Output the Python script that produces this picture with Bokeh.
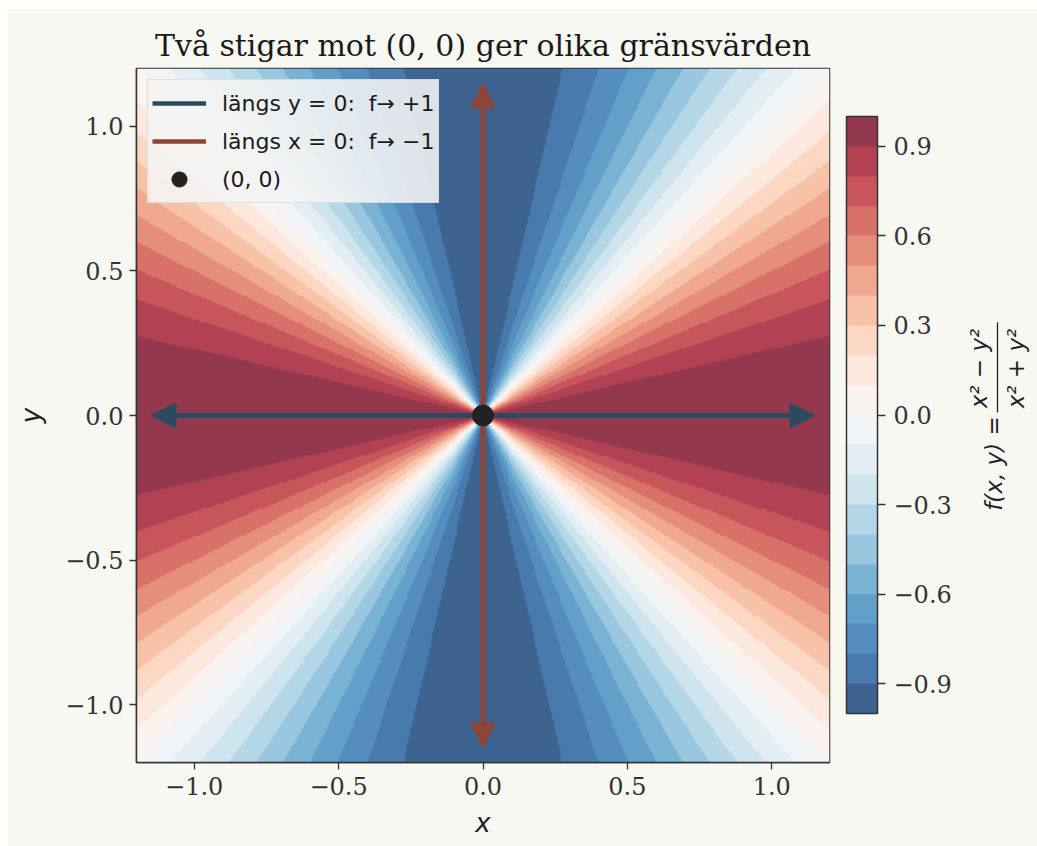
import numpy as np
from bokeh.plotting import figure
from bokeh.layouts import row
from bokeh.models import (LinearColorMapper, ColorBar, FixedTicker, CustomJSTickFormatter,
                          Arrow, NormalHead, Label, Legend, LegendItem, Range1d)
from bokeh.embed import file_html
from bokeh.resources import INLINE

# ---------------- data ----------------
title_text = "Två stigar mot (0, 0) ger olika gränsvärden"
x_lim = [-1.2, 1.2]
y_lim = [-1.2, 1.2]
levels = [round(-1.0 + 0.1 * i, 1) for i in range(21)]          # 20 filled bands
axis_ticks = [-1.0, -0.5, 0.0, 0.5, 1.0]
cbar_ticks = [-0.9, -0.6, -0.3, 0.0, 0.3, 0.6, 0.9]
path_y0_tips = [-1.15, 1.15]      # arrow tips along y = 0 (x values)
path_x0_tips = [-1.15, 1.15]      # arrow tips along x = 0 (y values)
origin_x = [0.0]
origin_y = [0.0]
legend_labels = ["längs y = 0:  f→ +1", "längs x = 0:  f→ −1", "(0, 0)"]
cbar_label_parts = ["f(x, y) =", "x² − y²", "x² + y²"]

# ---------------- field f(x,y) = (x^2 - y^2)/(x^2 + y^2) ----------------
N = 720
g = x_lim[0] + (np.arange(N) + 0.5) * (x_lim[1] - x_lim[0]) / N
X, Y = np.meshgrid(g, g)
F = ((X ** 2 - Y ** 2) / (X ** 2 + Y ** 2)).astype(np.float32)

# ---------------- colours: RdBu_r sampled at band centres, alpha 0.8 ----------------
rdbu_r = [(5, 48, 97), (33, 102, 172), (67, 147, 195), (146, 197, 222), (209, 229, 240),
          (247, 247, 247), (253, 219, 199), (244, 165, 130), (214, 96, 77), (178, 24, 43),
          (103, 0, 31)]


def cmap(t):
    s = t * (len(rdbu_r) - 1)
    i = min(int(s), len(rdbu_r) - 2)
    f = s - i
    return [rdbu_r[i][k] * (1 - f) + rdbu_r[i + 1][k] * f for k in range(3)]


alpha = 0.8
nb = len(levels) - 1
palette = []
for i in range(nb):
    c = cmap((i + 0.5) / nb)
    rgb = [int(round(alpha * v + (1 - alpha) * 255)) for v in c]
    palette.append("#%02x%02x%02x" % tuple(rgb))

mapper = LinearColorMapper(palette=palette, low=levels[0], high=levels[-1])

BG = "#f8f8f3"

# ---------------- main figure ----------------
p = figure(frame_width=693, frame_height=694, x_range=tuple(x_lim), y_range=tuple(y_lim),
           output_backend="svg", toolbar_location=None, title=title_text,
           min_border_left=128, min_border_top=59, min_border_right=133, min_border_bottom=84)
p.border_fill_color = BG
p.background_fill_color = "white"
p.outline_line_color = "#333333"
p.outline_line_width = 1.5
p.grid.visible = False

p.title.align = "center"
p.title.text_font = "DejaVu Serif"
p.title.text_font_style = "normal"
p.title.text_font_size = "30px"
p.title.text_color = "#1a1a1a"
p.title.standoff = 11

fmt = CustomJSTickFormatter(code="return (tick < -1e-9 ? '\u2212' : '') + Math.abs(tick).toFixed(1);")
for ax in (p.xaxis[0], p.yaxis[0]):
    ax.ticker = FixedTicker(ticks=axis_ticks)
    ax.formatter = fmt
    ax.major_tick_out = 7
    ax.major_tick_in = 0
    ax.minor_tick_line_color = None
    ax.major_tick_line_color = "#333333"
    ax.major_tick_line_width = 1.3
    ax.axis_line_color = "#333333"
    ax.axis_line_width = 1.5
    ax.major_label_text_font = "DejaVu Serif"
    ax.major_label_text_font_size = "24px"
    ax.major_label_text_color = "#333333"
    ax.axis_label_text_font = "DejaVu Sans"
    ax.axis_label_text_font_style = "italic"
    ax.axis_label_text_font_size = "26px"
    ax.axis_label_text_color = "#222222"
p.xaxis.axis_label = "x"
p.yaxis.axis_label = "y"
p.xaxis.major_label_standoff = 7
p.yaxis.major_label_standoff = 6
p.xaxis.axis_label_standoff = 10
p.yaxis.axis_label_standoff = 16

# filled contour field
p.image(image=[F], x=x_lim[0], y=y_lim[0], dw=x_lim[1] - x_lim[0], dh=y_lim[1] - y_lim[0],
        color_mapper=mapper)

blue = "#2c4a5e"
red = "#8c4538"

# arrows along the two paths
for tip in path_y0_tips:
    p.add_layout(Arrow(x_start=origin_x[0], y_start=origin_y[0], x_end=tip, y_end=origin_y[0],
                       line_color=blue, line_width=5,
                       end=NormalHead(size=25, fill_color=blue, line_color=blue, line_width=1)))
for tip in path_x0_tips:
    p.add_layout(Arrow(x_start=origin_x[0], y_start=origin_y[0], x_end=origin_x[0], y_end=tip,
                       line_color=red, line_width=5,
                       end=NormalHead(size=25, fill_color=red, line_color=red, line_width=1)))

# legend proxies (zero-length, hidden under the origin dot) and origin point
r_h = p.line(x=origin_x * 2, y=origin_y * 2, line_color=blue, line_width=4.5)
r_v = p.line(x=origin_x * 2, y=origin_y * 2, line_color=red, line_width=4.5)
r_o = p.scatter(origin_x, origin_y, size=21, fill_color="#222222", line_color="#222222",
                level="overlay")

legend = Legend(items=[LegendItem(label=legend_labels[0], renderers=[r_h]),
                       LegendItem(label=legend_labels[1], renderers=[r_v]),
                       LegendItem(label=legend_labels[2], renderers=[r_o])],
                location="top_left", margin=11, padding=4, spacing=0,
                glyph_width=54, glyph_height=38, label_standoff=16,
                label_text_font="DejaVu Sans", label_text_font_size="22px",
                label_text_color="#1a1a1a",
                background_fill_color="#f4f4f4", background_fill_alpha=0.88,
                border_line_color="#cccccc", border_line_width=1)
p.add_layout(legend)

# colour bar
cb = ColorBar(color_mapper=mapper, ticker=FixedTicker(ticks=cbar_ticks), formatter=fmt,
              width=31, height=597, location=(17, 49), padding=0, margin=0,
              major_tick_out=8, major_tick_in=0, major_tick_line_color="#333333",
              major_tick_line_width=1.3, minor_tick_line_color=None,
              major_label_text_font="DejaVu Serif", major_label_text_font_size="24px",
              major_label_text_color="#333333", label_standoff=8,
              bar_line_color="#333333", bar_line_width=1.5,
              background_fill_alpha=0, border_line_color=None)
p.add_layout(cb, "right")

# ---------------- colour-bar label strip (page-pixel coordinates) ----------------
q = figure(frame_width=75, frame_height=694, x_range=Range1d(962, 1037), y_range=Range1d(762, 68),
           output_backend="svg", toolbar_location=None, x_axis_location=None, y_axis_location=None,
           min_border_left=0, min_border_right=0, min_border_top=59, min_border_bottom=84)
q.border_fill_color = BG
q.background_fill_color = BG
q.outline_line_color = None
q.grid.visible = False

lab_kw = dict(angle=np.pi / 2, text_align="center", text_baseline="middle",
              text_font="DejaVu Sans", text_font_style="italic", text_font_size="23px",
              text_color="#222222")
q.add_layout(Label(x=993, y=463, text=cbar_label_parts[0], **lab_kw))
q.add_layout(Label(x=978, y=368, text=cbar_label_parts[1], **lab_kw))
q.add_layout(Label(x=1015, y=368, text=cbar_label_parts[2], **lab_kw))
q.add_layout(Arrow(x_start=997, y_start=322, x_end=997, y_end=412, end=None,
                   line_color="#222222", line_width=1.3))

layout = row(p, q, margin=(9, 0, 0, 8), spacing=0, styles={"background-color": BG})

with open("out.html", "w", encoding="utf-8") as fh:
    fh.write(file_html(layout, INLINE))
